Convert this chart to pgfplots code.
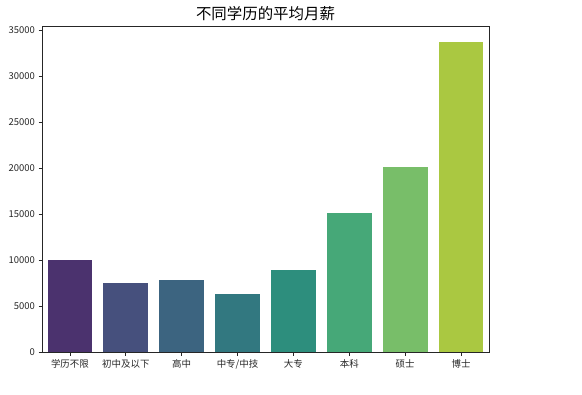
\documentclass[border=0pt]{standalone}
\usepackage{fontspec}
\setmainfont{Noto Sans CJK SC}
\usepackage{pgfplots}
\pgfplotsset{compat=1.18}
\definecolor{c1}{HTML}{4B326E}
\definecolor{c2}{HTML}{46507D}
\definecolor{c3}{HTML}{3C6480}
\definecolor{c4}{HTML}{327880}
\definecolor{c5}{HTML}{2D8E7D}
\definecolor{c6}{HTML}{46A878}
\definecolor{c7}{HTML}{78BE69}
\definecolor{c8}{HTML}{AAC841}
\definecolor{axc}{HTML}{262626}
\begin{document}
\begin{tikzpicture}[x=1bp,y=1bp]
\path[use as bounding box] (0,0) rectangle (582,394);
\begin{axis}[
  at={(42bp,41.7bp)}, anchor=south west,
  scale only axis, width=447bp, height=326bp,
  xmin=-0.5, xmax=7.5, ymin=0, ymax=35460,
  ytick={0,5000,...,35000},
  xtick={0,...,7},
  xticklabels={学历不限,初中及以下,高中,中专/中技,大专,本科,硕士,博士},
  scaled y ticks=false,
  yticklabel style={/pgf/number format/.cd,1000 sep={},assume math mode=true},
  ticklabel style={font=\fontsize{9.5}{11}\selectfont, text=axc},
  tick align=outside, major tick length=3.5bp,
  xtick pos=bottom, ytick pos=left,
  axis line style={axc, line width=0.8bp},
  every tick/.style={axc, line width=0.8bp},
  title={不同学历的平均月薪},
  title style={font=\fontsize{15.5}{18}\selectfont, at={(0.5,1)}, anchor=south, yshift=-3.5bp},
  ybar, bar width=0.8, bar shift=0pt,
]
\addplot[fill=c1, draw=none] coordinates {(0,10070)};
\addplot[fill=c2, draw=none] coordinates {(1,7530)};
\addplot[fill=c3, draw=none] coordinates {(2,7860)};
\addplot[fill=c4, draw=none] coordinates {(3,6340)};
\addplot[fill=c5, draw=none] coordinates {(4,8950)};
\addplot[fill=c6, draw=none] coordinates {(5,15160)};
\addplot[fill=c7, draw=none] coordinates {(6,20170)};
\addplot[fill=c8, draw=none] coordinates {(7,33770)};
\end{axis}
\end{tikzpicture}
\end{document}
